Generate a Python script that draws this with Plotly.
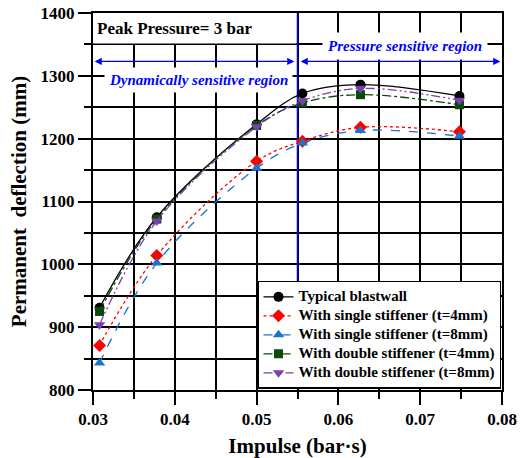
import plotly.graph_objects as go

# Impulse values (bar·s) of the six load cases
impulse = [0.0308, 0.0378, 0.0500, 0.0556, 0.0627, 0.0748]

# Permanent deflection (mm) for each blastwall configuration
typical = [931, 1075, 1223, 1272, 1286, 1268]
single_t4 = [871, 1014, 1164, 1196, 1218, 1211]
single_t8 = [843, 1002, 1153, 1193, 1213, 1204]
double_t4 = [925, 1072, 1221, 1257, 1270, 1254]
double_t8 = [904, 1069, 1219, 1260, 1280, 1261]

series_names = [
    "Typical blastwall",
    "With single stiffener (t=4mm)",
    "With single stiffener (t=8mm)",
    "With double stiffener (t=4mm)",
    "With double stiffener (t=8mm)",
]

x_ticks = [0.03, 0.04, 0.05, 0.06, 0.07, 0.08]
y_ticks = [800, 900, 1000, 1100, 1200, 1300, 1400]
region_split = 0.055

FONT = "Liberation Serif, Times New Roman, serif"

styles = [
    dict(color="#000000", dash="solid", symbol="circle", size=10),
    dict(color="#ff0000", dash="dot", symbol="diamond", size=10),
    dict(color="#1874cd", dash="dash", symbol="triangle-up", size=10),
    dict(color="#0b4a0b", dash="dashdot", symbol="square", size=9),
    dict(color="#7b3fb0", dash="9px,3px,2px,3px,2px,3px", symbol="triangle-down", size=10),
]

fig = go.Figure()
for name, ys, st in zip(series_names,
                        [typical, single_t4, single_t8, double_t4, double_t8],
                        styles):
    fig.add_trace(go.Scatter(
        x=impulse, y=ys,
        # larger label glyphs inside a compact legend row
        name=f'<span style="font-size:15px"><b>{name}</b></span>',
        mode="lines+markers",
        line=dict(color=st["color"], dash=st["dash"], width=1.3,
                  shape="spline", smoothing=1.0),
        marker=dict(color=st["color"], symbol=st["symbol"], size=st["size"]),
    ))

axis_common = dict(
    showline=True, linecolor="black", linewidth=2, mirror=True,
    showgrid=True, gridcolor="black", gridwidth=1.6,
    ticks="outside", ticklen=13, tickwidth=2, tickcolor="black",
    zeroline=False, automargin=False,
    tickfont=dict(family=FONT, size=17, color="black"),
)

fig.update_xaxes(
    range=[0.03, 0.08], tickvals=x_ticks,
    ticktext=[f"<b>{v:.2f}</b>" for v in x_ticks],
    minor=dict(dtick=0.005, tick0=0.03, ticks="outside", ticklen=7,
               tickwidth=2, tickcolor="black", showgrid=True,
               gridcolor="black", gridwidth=1.6),
    title=dict(text="<b>Impulse (bar·s)</b>", standoff=12,
               font=dict(family=FONT, size=21, color="black")),
    **axis_common,
)
fig.update_yaxes(
    range=[800, 1400], tickvals=y_ticks,
    ticktext=[f"<b>{v}</b>" for v in y_ticks],
    minor=dict(dtick=50, tick0=800, ticks="outside", ticklen=7,
               tickwidth=2, tickcolor="black", showgrid=True,
               gridcolor="black", gridwidth=1.6),
    title=dict(text="<b>Permanent  deflection (mm)</b>", standoff=8,
               font=dict(family=FONT, size=21, color="black")),
    **axis_common,
)

shapes = [
    # white header panel behind the peak pressure label
    dict(type="rect", xref="x", yref="y", x0=0.03, x1=region_split - 0.0001,
         y0=1351.5, y1=1400, fillcolor="white", line=dict(width=0),
         layer="between"),
    # boundary between the two response regions
    dict(type="line", xref="x", yref="y", x0=region_split, x1=region_split,
         y0=800, y1=1400, line=dict(color="#0000ff", width=1.5),
         layer="between"),
]

arrow_y = 1323
annotations = [
    dict(x=0.0302, y=1375, xref="x", yref="y", text="<b>Peak Pressure= 3 bar</b>",
         showarrow=False, xanchor="left", yanchor="middle",
         font=dict(family=FONT, size=17, color="black")),
    # double-headed arrows spanning each region
    dict(x=0.0302, y=arrow_y, ax=region_split - 0.0002, ay=arrow_y,
         xref="x", yref="y", axref="x", ayref="y", text="", showarrow=True,
         arrowhead=2, startarrowhead=2, arrowside="end+start",
         arrowsize=1.1, arrowwidth=1.3, arrowcolor="#0000ff"),
    dict(x=0.0798, y=arrow_y, ax=region_split + 0.0002, ay=arrow_y,
         xref="x", yref="y", axref="x", ayref="y", text="", showarrow=True,
         arrowhead=2, startarrowhead=2, arrowside="end+start",
         arrowsize=1.1, arrowwidth=1.3, arrowcolor="#0000ff"),
    dict(x=0.0429, y=1294, xref="x", yref="y",
         text="<b><i>Dynamically sensitive region</i></b>",
         showarrow=False, bgcolor="white", borderpad=4,
         font=dict(family=FONT, size=15, color="#0000ff")),
    dict(x=0.0681, y=1348, xref="x", yref="y",
         text="<b><i>Pressure sensitive region</i></b>",
         showarrow=False, bgcolor="white", borderpad=5,
         font=dict(family=FONT, size=15, color="#0000ff")),
]

fig.update_layout(
    width=524, height=458,
    margin=dict(l=93, r=22, t=13, b=68),
    paper_bgcolor="white", plot_bgcolor="white",
    shapes=shapes, annotations=annotations,
    legend=dict(
        x=0.401, y=0.003, xanchor="left", yanchor="bottom",
        bgcolor="white", bordercolor="black", borderwidth=1.5,
        font=dict(family=FONT, size=10, color="black"),
        tracegroupgap=0, itemwidth=30,
    ),
    showlegend=True,
)

fig.write_html("out.html")
